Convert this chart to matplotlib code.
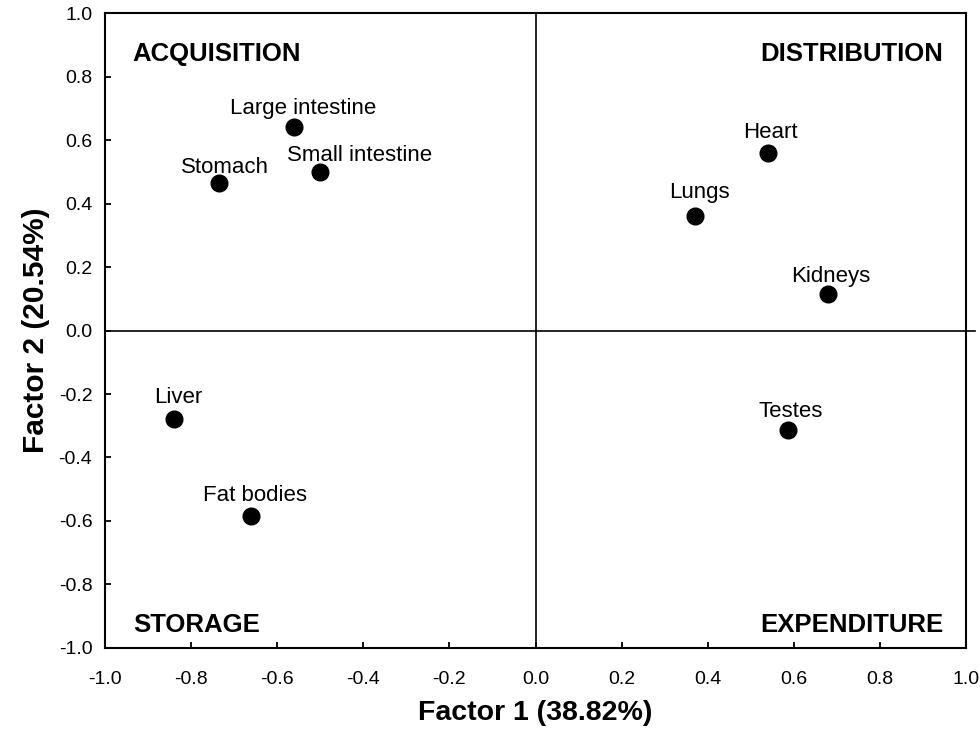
import matplotlib
matplotlib.use("Agg")
import matplotlib.pyplot as plt

plt.rcParams["font.family"] = ["Liberation Sans", "DejaVu Sans"]

# factor loadings of each organ on the first two factors
organs = ["Large intestine", "Small intestine", "Stomach", "Heart", "Lungs",
          "Kidneys", "Liver", "Fat bodies", "Testes"]
factor1 = [-0.56, -0.50, -0.735, 0.54, 0.37, 0.68, -0.84, -0.66, 0.585]
factor2 = [0.64, 0.50, 0.465, 0.56, 0.36, 0.115, -0.28, -0.585, -0.315]

quadrants = ["ACQUISITION", "DISTRIBUTION", "STORAGE", "EXPENDITURE"]
ticks = [-1.0, -0.8, -0.6, -0.4, -0.2, 0.0, 0.2, 0.4, 0.6, 0.8, 1.0]

# label offsets from each dot, in points (dx to text centre, dy to baseline)
label_offsets = {
    "Large intestine": (6, 9.5),
    "Small intestine": (28, 7.5),
    "Stomach": (4, 7.5),
    "Heart": (2, 11),
    "Lungs": (3, 13.5),
    "Kidneys": (2, 9),
    "Liver": (3, 11.5),
    "Fat bodies": (3, 11),
    "Testes": (2, 10),
}

fig = plt.figure(figsize=(9.8, 7.37), dpi=100)
ax = fig.add_axes([0.107, 0.121, 0.879, 0.861])

# quadrant dividers; the horizontal one runs a little past the right frame
ax.plot([-1.0, 1.02], [0, 0], color="black", linewidth=1.2, zorder=1, clip_on=False)
ax.axvline(0, color="black", linewidth=1.2, zorder=1)

ax.plot(factor1, factor2, "o", color="black", markersize=12, linestyle="none", zorder=3)
for name, x, y in zip(organs, factor1, factor2):
    dx, dy = label_offsets[name]
    ax.annotate(name, (x, y), xytext=(dx, dy), textcoords="offset points",
                ha="center", va="baseline", fontsize=16)

# quadrant titles
qpos = [(0.0325, 0.924, "left"), (0.973, 0.924, "right"),
        (0.0325, 0.025, "left"), (0.973, 0.025, "right")]
for text, (qx, qy, ha) in zip(quadrants, qpos):
    ax.text(qx, qy, text, transform=ax.transAxes, ha=ha, va="baseline",
            fontsize=18.5, fontweight="bold")

ax.set_xlim(-1.0, 1.0)
ax.set_ylim(-1.0, 1.0)
ax.set_xticks(ticks)
ax.set_yticks(ticks)
ax.set_xticklabels([f"{t:.1f}" for t in ticks])
ax.set_yticklabels([f"{t:.1f}" for t in ticks])
ax.tick_params(direction="in", length=4, width=1.3, labelsize=14)
ax.tick_params(axis="x", pad=17)
ax.tick_params(axis="y", pad=9)
for spine in ax.spines.values():
    spine.set_linewidth(1.5)

ax.set_xlabel("Factor 1 (38.82%)", fontsize=20.5, fontweight="bold", labelpad=8)
ax.set_ylabel("Factor 2 (20.54%)", fontsize=21.5, fontweight="bold", labelpad=6)

fig.savefig("out.png", dpi=100)
